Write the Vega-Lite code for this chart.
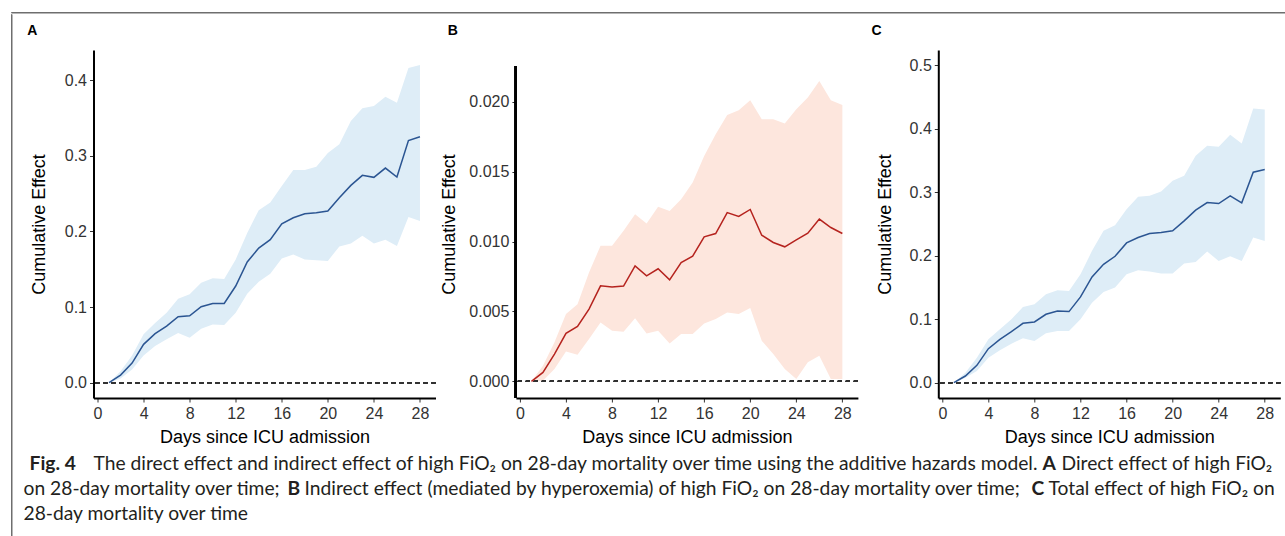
{
  "$schema": "https://vega.github.io/schema/vega-lite/v6.json",
  "background": "white",
  "padding": {"left": 10, "top": 11, "right": 0, "bottom": 0},
  "spacing": 0,
  "config": {
    "view": {"stroke": null},
    "axis": {
      "grid": false,
      "domainColor": "#000000",
      "domainWidth": 2,
      "tickColor": "#333333",
      "tickSize": 4,
      "tickWidth": 1,
      "labelFont": "Liberation Sans",
      "labelFontSize": 16,
      "labelColor": "#333333",
      "labelPadding": 3,
      "titleFont": "Liberation Sans",
      "titleFontSize": 18,
      "titleFontWeight": "normal",
      "titleColor": "#000000"
    },
    "axisX": {"titlePadding": 7},
    "title": {"font": "Liberation Sans", "fontSize": 14, "fontWeight": "bold", "anchor": "start", "frame": "bounds", "color": "#000000", "offset": 12},
    "text": {"font": "Lato", "fontSize": 19.25, "color": "#231f20", "align": "left", "baseline": "middle"}
  },
  "datasets": {
    "A": [
      {"day": 1, "est": 0, "lo": 0, "hi": 0},
      {"day": 2, "est": 0.0101, "lo": 0.0057, "hi": 0.015},
      {"day": 3, "est": 0.026, "lo": 0.0176, "hi": 0.036},
      {"day": 4, "est": 0.0507, "lo": 0.036, "hi": 0.064},
      {"day": 5, "est": 0.0648, "lo": 0.0485, "hi": 0.079},
      {"day": 6, "est": 0.0749, "lo": 0.0573, "hi": 0.0925},
      {"day": 7, "est": 0.0872, "lo": 0.0656, "hi": 0.111},
      {"day": 8, "est": 0.0885, "lo": 0.0595, "hi": 0.117},
      {"day": 9, "est": 0.1004, "lo": 0.0714, "hi": 0.132},
      {"day": 10, "est": 0.1048, "lo": 0.077, "hi": 0.138},
      {"day": 11, "est": 0.1048, "lo": 0.0762, "hi": 0.137},
      {"day": 12, "est": 0.1278, "lo": 0.0925, "hi": 0.163},
      {"day": 13, "est": 0.1595, "lo": 0.1176, "hi": 0.198},
      {"day": 14, "est": 0.178, "lo": 0.1335, "hi": 0.228},
      {"day": 15, "est": 0.189, "lo": 0.144, "hi": 0.238},
      {"day": 16, "est": 0.21, "lo": 0.164, "hi": 0.26},
      {"day": 17, "est": 0.218, "lo": 0.1696, "hi": 0.281},
      {"day": 18, "est": 0.2233, "lo": 0.163, "hi": 0.281},
      {"day": 19, "est": 0.2247, "lo": 0.162, "hi": 0.2855},
      {"day": 20, "est": 0.2269, "lo": 0.161, "hi": 0.3035},
      {"day": 21, "est": 0.2445, "lo": 0.18, "hi": 0.315},
      {"day": 22, "est": 0.2608, "lo": 0.184, "hi": 0.346},
      {"day": 23, "est": 0.274, "lo": 0.1943, "hi": 0.3626},
      {"day": 24, "est": 0.2714, "lo": 0.184, "hi": 0.3656},
      {"day": 25, "est": 0.2837, "lo": 0.189, "hi": 0.378},
      {"day": 26, "est": 0.2718, "lo": 0.1806, "hi": 0.37},
      {"day": 27, "est": 0.32, "lo": 0.219, "hi": 0.416},
      {"day": 28, "est": 0.325, "lo": 0.2137, "hi": 0.4198}
    ],
    "B": [
      {"day": 1, "est": 0, "lo": 0, "hi": 0},
      {"day": 2, "est": 0.00064, "lo": 0.00005, "hi": 0.00112},
      {"day": 3, "est": 0.00195, "lo": 0.00088, "hi": 0.00279},
      {"day": 4, "est": 0.00343, "lo": 0.00214, "hi": 0.00481},
      {"day": 5, "est": 0.00393, "lo": 0.0019, "hi": 0.00552},
      {"day": 6, "est": 0.00517, "lo": 0.00302, "hi": 0.00779},
      {"day": 7, "est": 0.00683, "lo": 0.00421, "hi": 0.00969},
      {"day": 8, "est": 0.00674, "lo": 0.00362, "hi": 0.00969},
      {"day": 9, "est": 0.00681, "lo": 0.00355, "hi": 0.01076},
      {"day": 10, "est": 0.00826, "lo": 0.00452, "hi": 0.01195},
      {"day": 11, "est": 0.00755, "lo": 0.00343, "hi": 0.01129},
      {"day": 12, "est": 0.00805, "lo": 0.00362, "hi": 0.01248},
      {"day": 13, "est": 0.00726, "lo": 0.00271, "hi": 0.01219},
      {"day": 14, "est": 0.0085, "lo": 0.00338, "hi": 0.01302},
      {"day": 15, "est": 0.00895, "lo": 0.00338, "hi": 0.01421},
      {"day": 16, "est": 0.01033, "lo": 0.00414, "hi": 0.01612},
      {"day": 17, "est": 0.01057, "lo": 0.00445, "hi": 0.01767},
      {"day": 18, "est": 0.01207, "lo": 0.00493, "hi": 0.01905},
      {"day": 19, "est": 0.01179, "lo": 0.00481, "hi": 0.01938},
      {"day": 20, "est": 0.01229, "lo": 0.00524, "hi": 0.0201},
      {"day": 21, "est": 0.01045, "lo": 0.0029, "hi": 0.01874},
      {"day": 22, "est": 0.00993, "lo": 0.00195, "hi": 0.01874},
      {"day": 23, "est": 0.00962, "lo": 0.00088, "hi": 0.01843},
      {"day": 24, "est": 0.01012, "lo": 0.00017, "hi": 0.01945},
      {"day": 25, "est": 0.0106, "lo": 0.00136, "hi": 0.02029},
      {"day": 26, "est": 0.0116, "lo": 0.00183, "hi": 0.02148},
      {"day": 27, "est": 0.011, "lo": 0.00017, "hi": 0.0201},
      {"day": 28, "est": 0.01057, "lo": 0.00017, "hi": 0.01976}
    ],
    "C": [
      {"day": 1, "est": 0, "lo": 0, "hi": 0},
      {"day": 2, "est": 0.0105, "lo": 0.0079, "hi": 0.0158},
      {"day": 3, "est": 0.0273, "lo": 0.0184, "hi": 0.0394},
      {"day": 4, "est": 0.0536, "lo": 0.0394, "hi": 0.0683},
      {"day": 5, "est": 0.0683, "lo": 0.0509, "hi": 0.084},
      {"day": 6, "est": 0.0804, "lo": 0.0614, "hi": 0.0998},
      {"day": 7, "est": 0.0935, "lo": 0.0699, "hi": 0.1192},
      {"day": 8, "est": 0.0956, "lo": 0.0657, "hi": 0.1234},
      {"day": 9, "est": 0.1077, "lo": 0.0777, "hi": 0.1392},
      {"day": 10, "est": 0.1129, "lo": 0.0814, "hi": 0.1455},
      {"day": 11, "est": 0.1119, "lo": 0.0814, "hi": 0.1444},
      {"day": 12, "est": 0.135, "lo": 0.0998, "hi": 0.1707},
      {"day": 13, "est": 0.1665, "lo": 0.126, "hi": 0.2075},
      {"day": 14, "est": 0.1864, "lo": 0.1429, "hi": 0.239},
      {"day": 15, "est": 0.199, "lo": 0.1497, "hi": 0.2479},
      {"day": 16, "est": 0.22, "lo": 0.1707, "hi": 0.2731},
      {"day": 17, "est": 0.2285, "lo": 0.177, "hi": 0.2925},
      {"day": 18, "est": 0.2348, "lo": 0.1749, "hi": 0.2941},
      {"day": 19, "est": 0.2363, "lo": 0.1717, "hi": 0.3009},
      {"day": 20, "est": 0.239, "lo": 0.1717, "hi": 0.3178},
      {"day": 21, "est": 0.2547, "lo": 0.1875, "hi": 0.3256},
      {"day": 22, "est": 0.2715, "lo": 0.1901, "hi": 0.3571},
      {"day": 23, "est": 0.2836, "lo": 0.2064, "hi": 0.3729},
      {"day": 24, "est": 0.282, "lo": 0.1917, "hi": 0.3713},
      {"day": 25, "est": 0.2941, "lo": 0.199, "hi": 0.3902},
      {"day": 26, "est": 0.2831, "lo": 0.1917, "hi": 0.3766},
      {"day": 27, "est": 0.3314, "lo": 0.2285, "hi": 0.4317},
      {"day": 28, "est": 0.3356, "lo": 0.2232, "hi": 0.4301}
    ],
    "caption": [
      {"line": 1, "seg": "s1", "text": "Fig. 4"},
      {"line": 1, "seg": "s2", "text": "The direct effect and indirect effect of high FiO₂ on 28-day mortality over time using the additive hazards model."},
      {"line": 1, "seg": "s3", "text": "A"},
      {"line": 1, "seg": "s4", "text": "Direct effect of high FiO₂"},
      {"line": 2, "seg": "p0", "text": "on 28-day mortality over time;"},
      {"line": 2, "seg": "s6", "text": "B"},
      {"line": 2, "seg": "s7", "text": "Indirect effect (mediated by hyperoxemia) of high FiO₂ on 28-day mortality over time;"},
      {"line": 2, "seg": "s8", "text": "C"},
      {"line": 2, "seg": "s9", "text": "Total effect of high FiO₂ on"},
      {"line": 3, "seg": "p0", "text": "28-day mortality over time"}
    ]
  },
  "vconcat": [
    {
      "width": 1290,
      "height": 0.5,
      "view": {"stroke": "#6e6e6e", "strokeWidth": 1},
      "data": {"values": []},
      "mark": "point",
      "encoding": {}
    },
    {
      "spacing": 11.5,
      "hconcat": [
        {
          "width": 0.5,
          "height": 530,
          "view": {"stroke": "#6e6e6e", "strokeWidth": 1},
          "data": {"values": []},
          "mark": "point",
          "encoding": {}
        },
        {
          "spacing": 6,
          "vconcat": [
            {
              "width": 10,
              "height": 4,
              "data": {"values": []},
              "mark": "point",
              "encoding": {}
            },
            {
              "spacing": 12.8,
              "hconcat": [
                {
                  "spacing": 3.4,
                  "hconcat": [
                    {
                      "title": {"text": "A", "dx": -3},
                      "width": 342,
                      "height": 348,
                      "data": {"name": "A"},
                      "layer": [
                        {
                          "mark": {"type": "area", "color": "#deedf7", "opacity": 1},
                          "encoding": {
                            "x": {"field": "day", "type": "quantitative", "scale": {"domain": [-0.35, 29.35], "nice": false, "zero": false}, "axis": {"values": [0, 4, 8, 12, 16, 20, 24, 28], "title": "Days since ICU admission"}},
                            "y": {"field": "lo", "type": "quantitative", "scale": {"domain": [-0.0202, 0.4397], "nice": false, "zero": false}, "axis": {"values": [0, 0.1, 0.2, 0.3, 0.4], "format": ".1f", "title": "Cumulative Effect", "titlePadding": 16}},
                            "y2": {"field": "hi"}
                          }
                        },
                        {
                          "mark": {"type": "rule", "color": "#333333", "strokeDash": [4, 4], "strokeWidth": 1},
                          "encoding": {"y": {"datum": 0}}
                        },
                        {
                          "mark": {"type": "line", "color": "#2b5592", "strokeWidth": 1.5},
                          "encoding": {
                            "x": {"field": "day", "type": "quantitative"},
                            "y": {"field": "est", "type": "quantitative"}
                          }
                        }
                      ]
                    },
                    {
                      "title": {"text": "B", "dx": 7},
                      "width": 342,
                      "height": 348,
                      "data": {"name": "B"},
                      "layer": [
                        {
                          "mark": {"type": "area", "color": "#fde6dd", "opacity": 1},
                          "encoding": {
                            "x": {"field": "day", "type": "quantitative", "scale": {"domain": [-0.35, 29.35], "nice": false, "zero": false}, "axis": {"values": [0, 4, 8, 12, 16, 20, 24, 28], "title": "Days since ICU admission"}},
                            "y": {"field": "lo", "type": "quantitative", "scale": {"domain": [-0.00119, 0.023693], "nice": false, "zero": false}, "axis": {"values": [0, 0.005, 0.01, 0.015, 0.02], "format": ".3f", "title": "Cumulative Effect", "titlePadding": 10, "domain": false}},
                            "y2": {"field": "hi"}
                          }
                        },
                        {
                          "mark": {"type": "rule", "color": "#000000", "strokeWidth": 2},
                          "encoding": {"x": {"datum": -0.35}, "y": {"datum": -0.00119}, "y2": {"datum": 0.02255}}
                        },
                        {
                          "mark": {"type": "rule", "color": "#333333", "strokeDash": [4, 4], "strokeWidth": 1},
                          "encoding": {"y": {"datum": 0}}
                        },
                        {
                          "mark": {"type": "line", "color": "#b5231e", "strokeWidth": 1.5},
                          "encoding": {
                            "x": {"field": "day", "type": "quantitative"},
                            "y": {"field": "est", "type": "quantitative"}
                          }
                        }
                      ]
                    }
                  ]
                },
                {
                  "title": {"text": "C", "dx": -5},
                  "width": 342,
                  "height": 348,
                  "data": {"name": "C"},
                  "layer": [
                    {
                      "mark": {"type": "area", "color": "#deedf7", "opacity": 1},
                      "encoding": {
                        "x": {"field": "day", "type": "quantitative", "scale": {"domain": [-0.35, 29.35], "nice": false, "zero": false}, "axis": {"values": [0, 4, 8, 12, 16, 20, 24, 28], "title": "Days since ICU admission"}},
                        "y": {"field": "lo", "type": "quantitative", "scale": {"domain": [-0.0241, 0.5237], "nice": false, "zero": false}, "axis": {"values": [0, 0.1, 0.2, 0.3, 0.4, 0.5], "format": ".1f", "title": "Cumulative Effect", "titlePadding": 14.5}},
                        "y2": {"field": "hi"}
                      }
                    },
                    {
                      "mark": {"type": "rule", "color": "#333333", "strokeDash": [4, 4], "strokeWidth": 1},
                      "encoding": {"y": {"datum": 0}}
                    },
                    {
                      "mark": {"type": "line", "color": "#2b5592", "strokeWidth": 1.5},
                      "encoding": {
                        "x": {"field": "day", "type": "quantitative"},
                        "y": {"field": "est", "type": "quantitative"}
                      }
                    }
                  ]
                }
              ]
            },
            {
              "width": 1240,
              "height": 74,
              "data": {"name": "caption"},
              "encoding": {
                "y": {"field": "line", "type": "ordinal", "axis": null},
                "x": {"value": -70},
                "text": {"field": "text"}
              },
              "layer": [
                {"transform": [{"filter": "datum.seg == 's1'"}], "mark": {"type": "text", "fontWeight": "bold", "dx": 6}},
                {"transform": [{"filter": "datum.seg == 's2'"}], "mark": {"type": "text", "dx": 70}},
                {"transform": [{"filter": "datum.seg == 's3'"}], "mark": {"type": "text", "fontWeight": "bold", "dx": 1019}},
                {"transform": [{"filter": "datum.seg == 's4'"}], "mark": {"type": "text", "dx": 1038}},
                {"transform": [{"filter": "datum.seg == 'p0'"}], "mark": {"type": "text", "dx": 0}},
                {"transform": [{"filter": "datum.seg == 's6'"}], "mark": {"type": "text", "fontWeight": "bold", "dx": 264}},
                {"transform": [{"filter": "datum.seg == 's7'"}], "mark": {"type": "text", "dx": 281}},
                {"transform": [{"filter": "datum.seg == 's8'"}], "mark": {"type": "text", "fontWeight": "bold", "dx": 1008}},
                {"transform": [{"filter": "datum.seg == 's9'"}], "mark": {"type": "text", "dx": 1025}}
              ]
            }
          ]
        }
      ]
    }
  ]
}
